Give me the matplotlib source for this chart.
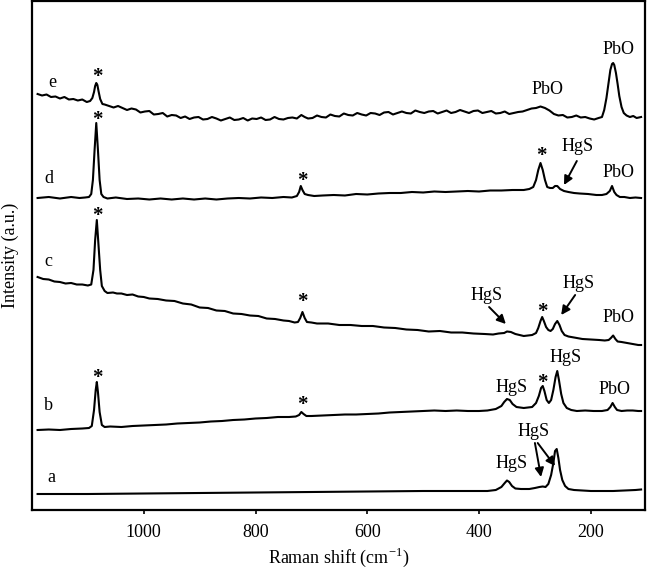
import matplotlib
matplotlib.use("Agg")
import matplotlib.pyplot as plt

plt.rcParams['font.family'] = ['Liberation Serif', 'DejaVu Serif']
plt.rcParams['mathtext.fontset'] = 'custom'
plt.rcParams['mathtext.rm'] = 'Liberation Serif'

# ---------------- data ----------------
e_x = [1190, 1182, 1174, 1166, 1158, 1150, 1142, 1134, 1126, 1118, 1110, 1102, 1096, 1092, 1089, 1087,
       1085, 1083, 1081, 1078, 1074, 1070,
       1062, 1054, 1046, 1038, 1030, 1022, 1014, 1006,
       998, 990, 982, 974, 966, 958, 950, 942,
       934, 926, 918, 910, 902, 894, 886, 878,
       870, 862, 854, 846, 838, 830, 822, 814,
       806, 798, 790, 782, 774, 766, 758, 750,
       742, 734, 726, 718, 712, 706, 698, 690,
       682, 674, 666, 658, 650, 642, 634, 626,
       618, 610, 602, 594, 586, 578, 570, 562,
       554, 546, 538, 530, 522, 514, 506, 498,
       490, 482, 474, 466, 458, 450, 442, 434,
       426, 418, 410, 402, 394, 386, 378, 370,
       362, 354, 346, 338, 330, 322, 314, 306,
       298, 290, 282, 274, 266, 258, 250, 242,
       234, 226, 218, 210, 202, 194, 186,
       180, 176, 172, 168, 165, 162, 160, 158, 155, 152, 149, 145, 141, 136, 130, 124, 118, 110]
e_y = [416, 414.5, 415.5, 413, 413.5, 411.5, 413, 410.5, 411, 409.5, 410.5, 408, 409, 412, 418, 424,
       427, 425, 419, 411, 406, 405.5,
       404, 402.5, 404, 402, 400, 401.5, 400.5, 397.5,
       398.5, 399, 395.5, 396, 397, 393.5, 395, 394.5,
       392, 393.5, 391, 392.5, 393, 390.5, 391, 393,
       391.5, 389.5, 391, 392.5, 390, 390.5, 392, 389.5,
       391.5, 391, 392.5, 390, 390.5, 393, 391, 390.5,
       392, 392.5, 391.5, 395, 393, 391.5, 392, 394.5,
       393, 392.5, 395.5, 394, 393.5, 396.5, 395, 394.5,
       397, 395.5, 394.5, 397, 396.5, 395, 397.5, 398,
       395.5, 397, 398.5, 397, 396.5, 399.5, 398, 397,
       398.5, 399, 396.5, 398, 399.5, 397, 398, 400,
       398.5, 397, 399, 399.5, 397, 398, 399, 396.5,
       397, 398.5, 396, 397, 398, 398.5, 400, 401.5,
       402, 403.5, 402, 399.5, 396, 394.5, 395, 392.5,
       393, 394.5, 392.5, 393, 391.5, 390.5, 392,
       393, 400, 412, 428, 440, 446, 447, 445, 437, 426, 414, 403, 397, 394.5, 393, 394, 392, 393]

d_x = [1190, 1170, 1150, 1130, 1115, 1105, 1098, 1094, 1091, 1088, 1085, 1082, 1079, 1076, 1072, 1065,
       1050, 1030, 1010, 990, 970, 950, 930, 910, 890, 870, 850, 830, 810, 790, 770, 750, 735, 726, 722,
       719, 716, 712, 706, 695, 680, 660, 640, 620, 600, 580, 560, 540, 520, 500, 480, 460, 440, 420, 400,
       380, 360, 340, 320, 310, 303, 298, 294, 290, 286, 282, 278, 273, 268, 264, 260, 255, 248, 240, 230,
       220, 205, 190, 180, 172, 166, 162, 158, 154, 148, 140, 130, 120, 110]
d_y = [312, 313, 311.5, 313, 312, 312.5, 313, 316, 330, 360, 387, 360, 330, 316, 313, 311.5,
       312.5, 311, 311.5, 310.5, 311.5, 310.5, 311.5, 310.5, 311.5, 310.5, 311.5, 312, 311.5, 312.5, 312, 313, 312.5, 314, 318,
       324, 320, 316, 315, 314, 314.5, 315, 314.5, 316, 315.5, 316.5, 317, 317, 318, 317.5, 318.5, 318, 318.5, 319, 318.5,
       319.5, 319.5, 320, 320, 321, 323, 330, 340, 347, 340, 330, 323, 322, 322, 324, 324, 321, 319, 318, 317,
       316.5, 316, 315, 315, 316, 319, 324, 318, 315, 313, 313, 312, 312.5, 312]

c_x = [1190, 1180, 1170, 1160, 1150, 1140, 1130, 1120, 1110, 1100, 1094, 1090, 1087, 1084, 1081, 1078,
       1075, 1070, 1065, 1055, 1048, 1040, 1030, 1020, 1010, 1000, 990, 975, 960, 945, 930, 915, 900, 885,
       870, 855, 840, 825, 810, 795, 780, 765, 750, 740, 730, 724, 720, 716, 712, 708, 700, 690, 670, 650,
       630, 610, 590, 570, 550, 530, 510, 490, 470, 450, 430, 410, 390, 375, 365, 355, 350, 343, 335, 320,
       305, 298, 294, 290, 287, 284, 280, 276, 272, 268, 264, 260, 256, 252, 247, 240, 230, 215, 200, 185,
       175, 168, 164, 160, 156, 152, 145, 135, 125, 115, 110]
c_y = [233, 231, 230.5, 228.5, 228, 226.5, 227, 225.5, 225.5, 224.5, 225.5, 240, 270, 290, 265, 240,
       224, 219, 217, 217.5, 216.5, 216.5, 215, 215.5, 213.5, 213, 211.5, 211, 209.5, 209, 206.5, 205.5, 202.5, 202,
       199.5, 199, 196.5, 196, 194.5, 194, 191.5, 191, 189.5, 189, 187.5, 188, 192, 198, 192, 188, 187.5, 186.5, 186.5, 185,
       185, 184, 184, 182.5, 182, 180.5, 180, 178.5, 179, 177.5, 177.5, 176.5, 176, 175.5, 176.5, 177, 178.5, 178, 176, 174,
       175, 177, 182, 189, 193, 189, 183, 180, 179, 181, 186, 189, 185, 179, 175, 173.5, 172.5, 171, 170.5, 170,
       169.5, 170, 172, 174.5, 171, 168.5, 168, 167, 166, 165, 165]

b_x = [1190, 1170, 1150, 1130, 1110, 1098, 1093, 1089, 1086, 1084, 1082, 1079, 1075, 1070, 1060, 1040,
       1020, 1000, 980, 960, 940, 920, 900, 880, 860, 840, 820, 800, 780, 760, 740, 728, 722, 718, 714,
       709, 700, 680, 660, 640, 620, 600, 580, 560, 540, 520, 500, 480, 460, 440, 420, 400, 385, 370, 360,
       355, 350, 345, 340, 333, 320, 305, 298, 293, 289, 286, 283, 279, 275, 271, 267, 263, 260, 257, 253,
       249, 243, 235, 225, 210, 195, 180, 170, 165, 161, 157, 153, 145, 135, 125, 115, 110]
b_y = [80, 80.5, 80, 81, 81.5, 82, 84, 100, 120, 128, 118, 98, 85, 83, 83.5, 83,
       84, 84.5, 85, 85.5, 86.5, 87, 87.5, 88.5, 89, 90, 90.5, 91.5, 92, 93, 93, 93.5, 95, 98, 96,
       94, 94, 94.5, 95, 95.5, 95.5, 96, 96.5, 97.5, 98, 98.5, 99, 99.5, 99, 99.5, 99, 99, 99.5, 101, 104,
       108, 111, 110, 106, 103, 102, 103, 107, 114, 122, 124, 119, 110, 107, 110, 120, 133, 139, 130, 116,
       107, 102, 100, 99, 99.5, 99, 99, 100, 103, 107, 103, 100, 99, 99.5, 99.5, 99, 99]

a_x = [1190, 1100, 1000, 900, 800, 700, 600, 500, 420, 385, 370, 360, 354, 350, 346, 341, 335, 325,
       310, 300, 292, 286, 281, 276, 271, 267, 264, 261, 258, 255, 251, 246, 240, 230, 215, 200, 180,
       160, 140, 120, 110]
a_y = [16, 16, 16.5, 17, 17.5, 18, 18.5, 19, 19, 19, 20, 23, 27, 29.5, 28, 24, 21.5, 21,
       21, 22, 23, 23.5, 23, 26, 35, 47, 59, 61, 52, 40, 30, 24, 21, 20, 19.5, 19, 19,
       19, 19.5, 20, 20.5]

spectra = [(a_x, a_y), (b_x, b_y), (c_x, c_y), (d_x, d_y), (e_x, e_y)]
spectrum_names = ['a', 'b', 'c', 'd', 'e']
xticks = [1000, 800, 600, 400, 200]

# ---------------- figure ----------------
FS = 13
fig = plt.figure(figsize=(6.48, 5.73), dpi=100)
ax = fig.add_axes([32 / 648, (573 - 510) / 573, 613 / 648, 509 / 573])

for xs, ys in spectra:
    ax.plot(xs, ys, color='black', lw=1.5, solid_joinstyle='round')

ax.set_xlim(1200, 103)
ax.set_ylim(0, 509)
ax.set_yticks([])
ax.set_xticks(xticks)
ax.set_xticklabels([str(t) for t in xticks])
ax.tick_params(axis='x', direction='out', length=3, width=1.2, labelsize=FS, pad=7)
for sp in ax.spines.values():
    sp.set_linewidth(1.6)

ax.set_xlabel('Raman shift (cm$^{\\mathregular{-1}}$)', fontsize=FS)
ax.xaxis.set_label_coords(0.5, -0.07)
ax.set_ylabel('Intensity (a.u.)', fontsize=FS)
ax.yaxis.set_label_coords(-0.022, 0.5)

# spectrum letters
letter_pos = {'e': (1164, 428), 'd': (1170, 332), 'c': (1171, 248), 'b': (1170, 104), 'a': (1166, 33)}
for name in spectrum_names:
    x, y = letter_pos[name]
    ax.text(x, y, name, fontsize=FS, ha='center', va='center')

# asterisks (glyph centre)
stars = [(1083, 438), (1083, 395), (1083, 299), (1083, 137),
         (716, 334), (716, 213), (716, 110),
         (288, 359), (287, 203), (287, 132)]
for x, y in stars:
    ax.text(x, y - 10, '*', fontsize=15, ha='center', va='baseline', fontweight='bold')

# plain labels
labels = [('PbO', 151, 461), ('PbO', 277, 421), ('PbO', 151, 338), ('PbO', 151, 193), ('PbO', 157, 120),
          ('HgS', 246, 152), ('HgS', 341, 122), ('HgS', 341, 47)]
for t, x, y in labels:
    ax.text(x, y, t, fontsize=FS, ha='center', va='center')

# labels with arrows
arrows = [('HgS', (223, 364), [((225, 349), (248, 325))]),
          ('HgS', (221, 226), [((228, 215), (253, 195))]),
          ('HgS', (386, 214), [((382, 203), (352, 186))]),
          ('HgS', (303, 78), [((300, 67), (289, 33)), ((295, 67), (264, 44))])]
for t, (tx, ty), segs in arrows:
    ax.text(tx, ty, t, fontsize=FS, ha='center', va='center')
    for (x0, y0), (x1, y1) in segs:
        ax.annotate('', xy=(x1, y1), xytext=(x0, y0),
                    arrowprops=dict(arrowstyle='-|>', color='black', lw=1.4,
                                    mutation_scale=13, shrinkA=0, shrinkB=0))

fig.savefig('out.png', dpi=100)
